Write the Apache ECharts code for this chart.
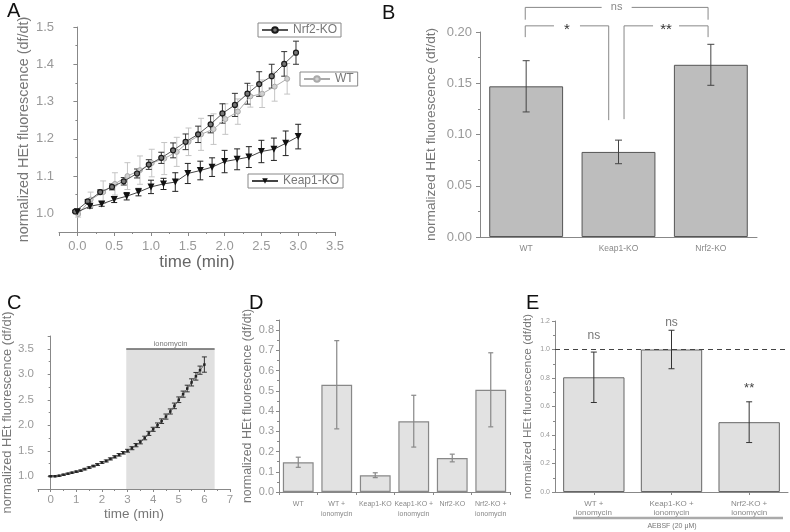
<!DOCTYPE html>
<html><head><meta charset="utf-8">
<script src="https://cdn.jsdelivr.net/npm/echarts@6/dist/echarts.min.js"></script>
<style>html,body{margin:0;padding:0;background:#fff}#c{width:790px;height:532px}</style>
</head><body><div id="c"></div>
<script>
var FONT = '"Liberation Sans", Arial, sans-serif';

// ---- Panel A ----
var A_t_nrf2 = [-0.03,0.14,0.31,0.47,0.63,0.81,0.97,1.14,1.30,1.47,1.64,1.81,1.97,2.14,2.31,2.47,2.64,2.81,2.97];
var A_nrf2 = [1.005,1.032,1.057,1.071,1.086,1.107,1.131,1.149,1.169,1.192,1.212,1.239,1.268,1.291,1.321,1.347,1.368,1.401,1.431];
var A_nrf2_err = [0.003,0.005,0.006,0.008,0.010,0.012,0.013,0.015,0.020,0.021,0.022,0.023,0.026,0.031,0.028,0.033,0.032,0.033,0.031];
var A_t_wt = [0.01,0.18,0.35,0.51,0.68,0.85,1.01,1.18,1.35,1.51,1.68,1.85,2.01,2.18,2.35,2.51,2.68,2.85];
var A_wt = [0.998,1.037,1.057,1.079,1.100,1.116,1.135,1.147,1.165,1.192,1.212,1.226,1.253,1.273,1.314,1.321,1.340,1.361];
var A_wt_err = [0.008,0.020,0.030,0.030,0.036,0.038,0.037,0.043,0.039,0.037,0.043,0.041,0.041,0.034,0.029,0.037,0.039,0.041];
var A_t_keap1 = [0.00,0.17,0.33,0.50,0.67,0.83,1.00,1.17,1.33,1.50,1.67,1.83,2.00,2.17,2.33,2.50,2.67,2.83,3.00];
var A_keap1 = [1.004,1.019,1.025,1.037,1.046,1.057,1.071,1.079,1.084,1.107,1.115,1.124,1.139,1.145,1.151,1.166,1.172,1.188,1.206];
var A_keap1_err = [0.003,0.005,0.006,0.008,0.010,0.010,0.018,0.015,0.025,0.027,0.025,0.025,0.030,0.028,0.028,0.030,0.030,0.033,0.033];

// ---- Panel B ----
var B_cats = ['WT','Keap1-KO','Nrf2-KO'];
var B_vals = [0.147,0.083,0.168];
var B_err = [0.025,0.0115,0.020];
// [fromCat, toCat, yBar, yLeftLegEnd, yRightLegEnd]
var B_brackets = [[-0.01,1.97,0.224,0.212,0.212],[-0.01,0.894,0.206,0.195,0.114],[1.06,1.97,0.206,0.115,0.195]];
var B_sigText = ['ns','*','**'];

// ---- Panel C ----
var C_t = [0,0.17,0.33,0.5,0.67,0.83,1,1.17,1.33,1.5,1.67,1.83,2,2.17,2.33,2.5,2.67,2.83,3,3.17,3.33,3.5,3.67,3.83,4,4.17,4.33,4.5,4.67,4.83,5,5.17,5.33,5.5,5.67,5.83,6];
var C_v = [1.00,1.00,1.01,1.03,1.05,1.07,1.09,1.11,1.14,1.17,1.20,1.23,1.27,1.30,1.34,1.38,1.42,1.46,1.50,1.55,1.61,1.67,1.75,1.84,1.92,2.00,2.08,2.17,2.27,2.38,2.50,2.61,2.72,2.84,2.96,3.08,3.19];
var C_err = [0.01,0.01,0.01,0.01,0.01,0.01,0.012,0.012,0.015,0.015,0.015,0.018,0.018,0.02,0.02,0.022,0.025,0.025,0.028,0.03,0.032,0.035,0.035,0.04,0.04,0.045,0.045,0.05,0.05,0.055,0.055,0.06,0.065,0.07,0.075,0.08,0.15];
var C_iono = [2.95, 6.4, 3.5]; // start, end, level

// ---- Panel D ----
var D_cats = ['WT','WT +\nionomycin','Keap1-KO','Keap1-KO +\nionomycin','Nrf2-KO','Nrf2-KO +\nionomycin'];
var D_vals = [0.147,0.53,0.083,0.35,0.168,0.505];
var D_err = [0.025,0.218,0.012,0.128,0.019,0.183];

// ---- Panel E ----
var E_cats = ['WT +\nionomycin','Keap1-KO +\nionomycin','Nrf2-KO +\nionomycin'];
var E_vals = [0.805,1.0,0.49];
var E_err = [0.177,0.135,0.143];
var E_sig = ['ns','ns','**'];
var E_sigY = [1.10,1.19,0.75];
var E_ref = 1.0;

function zip(t, v) { return t.map(function (x, i) { return [x, v[i]]; }); }
function zip3(t, v, e) { return t.map(function (x, i) { return [x, v[i], e[i]]; }); }
function idx3(v, e) { return v.map(function (y, i) { return [i, y, e[i]]; }); }

function errSeries(xi, yi, data, color, cap, lw) {
  return {
    type: 'custom', xAxisIndex: xi, yAxisIndex: yi, data: data, z: 4, silent: true,
    encode: { x: 0, y: 1 },
    renderItem: function (params, api) {
      var x = api.value(0), y = api.value(1), e = api.value(2);
      var hi = api.coord([x, y + e]), lo = api.coord([x, y - e]);
      function st() { return { stroke: color, lineWidth: lw }; }
      return { type: 'group', children: [
        { type: 'line', shape: { x1: hi[0], y1: hi[1], x2: lo[0], y2: lo[1] }, style: st() },
        { type: 'line', shape: { x1: hi[0] - cap, y1: hi[1], x2: hi[0] + cap, y2: hi[1] }, style: st() },
        { type: 'line', shape: { x1: lo[0] - cap, y1: lo[1], x2: lo[0] + cap, y2: lo[1] }, style: st() }
      ] };
    }
  };
}

function axLine() { return { show: true, lineStyle: { color: '#888', width: 1 } }; }
function axTick(len) { return { show: true, length: len, lineStyle: { color: '#888' } }; }
function minTick() { return { show: true, splitNumber: 2, length: 2, lineStyle: { color: '#888' } }; }
function yName(size, gap) {
  return { nameLocation: 'middle', nameRotate: 90, nameGap: gap,
    nameTextStyle: { fontSize: size, color: '#777', fontFamily: FONT } };
}
function fmt(d) { return function (v) { return v.toFixed(d); }; }

var legendCommon = {
  orient: 'horizontal', borderColor: '#888', borderWidth: 1, padding: [1, 4, 1, 3],
  itemWidth: 26, itemHeight: 7, itemGap: 0, selectedMode: false,
  textStyle: { fontSize: 12, color: '#777', fontFamily: FONT }
};

var option = {
  animation: false,
  backgroundColor: '#fff',
  textStyle: { fontFamily: FONT },
  title: [
    { text: 'A', left: 7, top: 1 },
    { text: 'B', left: 382, top: 3 },
    { text: 'C', left: 7, top: 293 },
    { text: 'D', left: 249, top: 293 },
    { text: 'E', left: 526, top: 293 }
  ].map(function (t) {
    t.padding = 0;
    t.textStyle = { fontSize: 20, fontWeight: 'normal', color: '#111', fontFamily: FONT };
    return t;
  }),
  legend: [
    Object.assign({ data: ['Nrf2-KO'], left: 258, top: 23 }, legendCommon),
    Object.assign({ data: ['WT'], left: 300, top: 72 }, legendCommon),
    Object.assign({ data: ['Keap1-KO'], left: 248, top: 174 }, legendCommon)
  ],
  grid: [
    { left: 59, top: 27, width: 276, height: 205 },
    { left: 480, top: 32, width: 277, height: 205 },
    { left: 33, top: 336, width: 197, height: 153 },
    { left: 279, top: 320, width: 231, height: 172 },
    { left: 555, top: 321, width: 233, height: 171 }
  ],
  xAxis: [
    { type: 'value', gridIndex: 0, min: -0.25, max: 3.5, splitNumber: 7,
      axisLine: axLine(), axisTick: axTick(4), minorTick: minTick(), splitLine: { show: false },
      axisLabel: { fontSize: 13, color: '#999', margin: 8, showMinLabel: false, formatter: fmt(1) },
      name: 'time (min)', nameLocation: 'middle', nameGap: 21,
      nameTextStyle: { fontSize: 17, color: '#666', fontFamily: FONT } },
    { type: 'category', gridIndex: 1, data: B_cats,
      axisLine: axLine(), axisTick: { show: false },
      axisLabel: { fontSize: 8.5, color: '#888', margin: 7, interval: 0 } },
    { type: 'value', gridIndex: 2, min: -0.5, max: 7, splitNumber: 7,
      axisLine: axLine(), axisTick: axTick(3), minorTick: minTick(), splitLine: { show: false },
      axisLabel: { fontSize: 11.5, color: '#999', margin: 5, showMinLabel: false, formatter: fmt(0) },
      name: 'time (min)', nameLocation: 'middle', nameGap: 17,
      nameTextStyle: { fontSize: 13.5, color: '#777', fontFamily: FONT } },
    { type: 'category', gridIndex: 3, data: D_cats,
      axisLine: axLine(), axisTick: { show: true, length: 3, lineStyle: { color: '#888' } },
      axisLabel: { fontSize: 7, color: '#888', margin: 7, interval: 0, lineHeight: 10 } },
    { type: 'category', gridIndex: 4, data: E_cats,
      axisLine: axLine(), axisTick: { show: true, length: 3, alignWithLabel: true, lineStyle: { color: '#888' } },
      axisLabel: { fontSize: 8, color: '#888', margin: 7, interval: 0, lineHeight: 9 } }
  ],
  yAxis: [
    Object.assign({ type: 'value', gridIndex: 0, min: 0.95, max: 1.5, splitNumber: 5,
      axisLine: axLine(), axisTick: axTick(4), minorTick: minTick(), splitLine: { show: false },
      axisLabel: { fontSize: 13, color: '#999', margin: 5, showMinLabel: false, formatter: fmt(1) },
      name: 'normalized HEt fluorescence (df/dt)' }, yName(14.4, 28)),
    Object.assign({ type: 'value', gridIndex: 1, min: 0, max: 0.2, interval: 0.05,
      axisLine: axLine(), axisTick: axTick(4), minorTick: minTick(), splitLine: { show: false },
      axisLabel: { fontSize: 13, color: '#999', margin: 8, formatter: fmt(2) },
      name: 'normalized HEt fluorescence (df/dt)' }, yName(13.6, 42)),
    Object.assign({ type: 'value', gridIndex: 2, min: 0.75, max: 3.75, splitNumber: 6,
      axisLine: axLine(), axisTick: axTick(3), minorTick: minTick(), splitLine: { show: false },
      axisLabel: { fontSize: 11.5, color: '#999', margin: 4, showMinLabel: false, showMaxLabel: false, formatter: fmt(1) },
      name: 'normalized HEt fluorescence (df/dt)' }, yName(12.9, 19)),
    Object.assign({ type: 'value', gridIndex: 3, min: 0, max: 0.85, interval: 0.1,
      axisLine: axLine(), axisTick: axTick(3), minorTick: minTick(), splitLine: { show: false },
      axisLabel: { fontSize: 11, color: '#999', margin: 5, showMaxLabel: false, formatter: fmt(1) },
      name: 'normalized HEt fluorescence (df/dt)' }, yName(12.4, 25)),
    Object.assign({ type: 'value', gridIndex: 4, min: 0, max: 1.2, interval: 0.2,
      axisLine: axLine(), axisTick: axTick(3), minorTick: minTick(), splitLine: { show: false },
      axisLabel: { fontSize: 7, color: '#999', margin: 5, formatter: fmt(1) },
      name: 'normalized HEt fluorescence (df/dt)' }, yName(11.8, 21))
  ],
  series: [
    // A
    errSeries(0, 0, zip3(A_t_wt, A_wt, A_wt_err), '#c4c4c4', 3, 1),
    errSeries(0, 0, zip3(A_t_nrf2, A_nrf2, A_nrf2_err), '#333', 3, 1),
    errSeries(0, 0, zip3(A_t_keap1, A_keap1, A_keap1_err), '#222', 3, 1),
    { name: 'WT', type: 'line', xAxisIndex: 0, yAxisIndex: 0, data: zip(A_t_wt, A_wt), z: 5,
      symbol: 'circle', symbolSize: 5, lineStyle: { color: '#aaa', width: 1 },
      itemStyle: { color: '#d0d0d0', borderColor: '#aaa', borderWidth: 1 } },
    { name: 'Nrf2-KO', type: 'line', xAxisIndex: 0, yAxisIndex: 0, data: zip(A_t_nrf2, A_nrf2), z: 6,
      symbol: 'circle', symbolSize: 5, lineStyle: { color: '#555', width: 1 },
      itemStyle: { color: '#777', borderColor: '#1a1a1a', borderWidth: 1.2 } },
    { name: 'Keap1-KO', type: 'line', xAxisIndex: 0, yAxisIndex: 0, data: zip(A_t_keap1, A_keap1), z: 6,
      symbol: 'triangle', symbolRotate: 180, symbolSize: 7, lineStyle: { color: '#444', width: 1 },
      itemStyle: { color: '#111' } },
    // B
    { type: 'bar', xAxisIndex: 1, yAxisIndex: 1, data: B_vals, barWidth: '80%',
      itemStyle: { color: '#bdbdbd', borderColor: '#555', borderWidth: 1 } },
    errSeries(1, 1, idx3(B_vals, B_err), '#444', 3.5, 1),
    { type: 'custom', xAxisIndex: 1, yAxisIndex: 1, silent: true, z: 5,
      data: B_brackets.map(function (b) { return [0, b[2]]; }),
      renderItem: function (params, api) {
        var i = params.dataIndex, b = B_brackets[i];
        var base = api.coord([0, b[2]]);
        var band = api.size([1, 0])[0];
        var x1 = base[0] + b[0] * band, x2 = base[0] + b[1] * band;
        var yT = base[1], yL = api.coord([0, b[3]])[1], yR = api.coord([0, b[4]])[1];
        var xm = (x1 + x2) / 2, txt = B_sigText[i];
        var g = txt === 'ns' ? 15 : 13;
        function st() { return { stroke: '#888', lineWidth: 1 }; }
        var isStar = txt !== 'ns';
        return { type: 'group', children: [
          { type: 'line', shape: { x1: x1, y1: yL, x2: x1, y2: yT }, style: st() },
          { type: 'line', shape: { x1: x1, y1: yT, x2: xm - g, y2: yT }, style: st() },
          { type: 'line', shape: { x1: xm + g, y1: yT, x2: x2, y2: yT }, style: st() },
          { type: 'line', shape: { x1: x2, y1: yT, x2: x2, y2: yR }, style: st() },
          { type: 'text', style: { text: txt, x: xm, y: yT + (isStar ? 4 : 0), align: 'center', verticalAlign: 'middle',
            fill: isStar ? '#333' : '#888', font: (isStar ? '15px ' : '11px ') + FONT } }
        ] };
      } },
    // C
    { type: 'line', xAxisIndex: 2, yAxisIndex: 2, data: [], z: 1, silent: true,
      markArea: { silent: true, itemStyle: { color: '#e0e0e0' },
        label: { show: true, position: 'top', distance: 1, formatter: 'ionomycin', color: '#777', fontSize: 7.5, fontFamily: FONT },
        data: [[{ xAxis: C_iono[0], yAxis: 0.75 }, { xAxis: C_iono[1], yAxis: C_iono[2] }]] },
      markLine: { silent: true, symbol: 'none', label: { show: false },
        lineStyle: { color: '#666', width: 1.5, type: 'solid' },
        data: [[{ coord: [C_iono[0], C_iono[2]] }, { coord: [C_iono[1], C_iono[2]] }]] } },
    { type: 'line', xAxisIndex: 2, yAxisIndex: 2, data: zip(C_t, C_v), z: 5,
      symbol: 'rect', symbolSize: 2.5, lineStyle: { color: '#666', width: 1 }, itemStyle: { color: '#222' } },
    errSeries(2, 2, zip3(C_t, C_v, C_err), '#333', 2.5, 1),
    // D
    { type: 'bar', xAxisIndex: 3, yAxisIndex: 3, data: D_vals, barWidth: '80%',
      itemStyle: { color: '#e2e2e2', borderColor: '#888', borderWidth: 1.2 } },
    errSeries(3, 3, idx3(D_vals, D_err), '#888', 2.5, 1.2),
    // E
    { type: 'bar', xAxisIndex: 4, yAxisIndex: 4, data: E_vals, barWidth: '79%',
      itemStyle: { color: '#e0e0e0', borderColor: '#666', borderWidth: 1 },
      markLine: { silent: true, symbol: 'none', label: { show: false },
        lineStyle: { color: '#444', width: 1, type: [5, 4] }, data: [{ yAxis: E_ref }] } },
    errSeries(4, 4, idx3(E_vals, E_err), '#333', 3, 1),
    { type: 'custom', xAxisIndex: 4, yAxisIndex: 4, silent: true, z: 5,
      data: E_sigY.map(function (y, i) { return [i, y]; }),
      renderItem: function (params, api) {
        var p = api.coord([api.value(0), api.value(1)]);
        var txt = E_sig[params.dataIndex], isStar = txt !== 'ns';
        return { type: 'text', style: { text: txt, x: p[0], y: p[1] + (isStar ? 3 : 0), align: 'center', verticalAlign: 'middle',
          fill: isStar ? '#444' : '#777', font: (isStar ? '13px ' : '12px ') + FONT } };
      } }
  ],
  graphic: [
    { type: 'line', shape: { x1: 573, y1: 518, x2: 783, y2: 518 }, style: { stroke: '#aaa', lineWidth: 2.5 } },
    { type: 'text', x: 672, y: 526, style: { text: 'AEBSF (20 μM)', align: 'center', verticalAlign: 'middle', fill: '#777', font: '7px ' + FONT } }
  ]
};

var chart = echarts.init(document.getElementById('c'), null, { renderer: 'canvas' });
chart.setOption(option);
</script>
</body></html>
